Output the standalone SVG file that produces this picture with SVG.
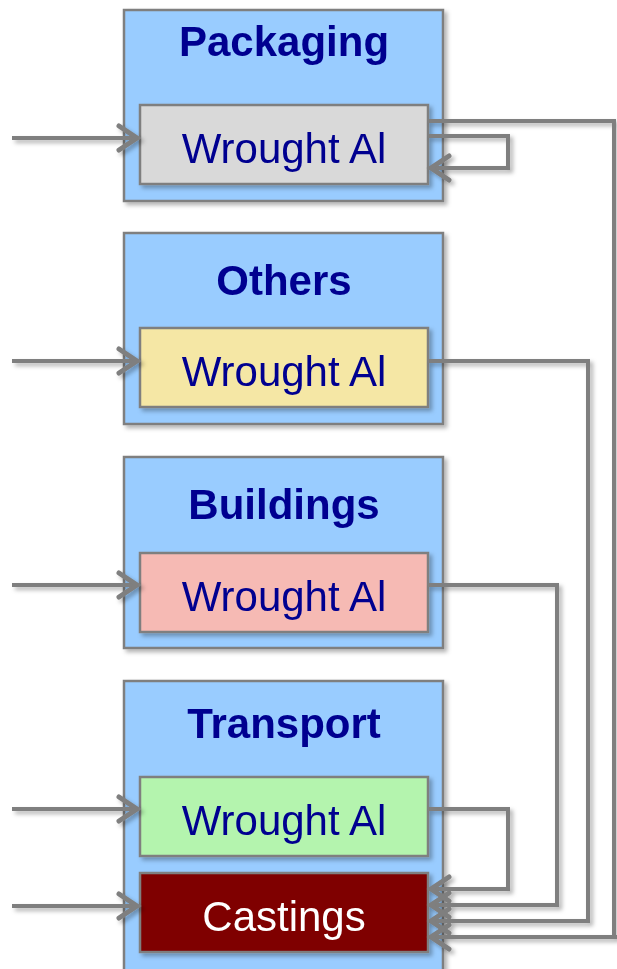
<svg xmlns="http://www.w3.org/2000/svg" width="617" height="969" viewBox="0 0 617 969">
  <style>
    .sector { fill: #99CCFF; stroke: #7F7F7F; stroke-width: 2.5; }
    .inner { stroke: #7F7F7F; stroke-width: 2.5; }
    .title { font-family: "Liberation Sans", Arial, sans-serif; font-weight: bold; font-size: 42px; fill: #000090; text-anchor: middle; }
    .label { font-family: "Liberation Sans", Arial, sans-serif; font-size: 42px; fill: #000090; text-anchor: middle; }
    .label-light { fill: #FFFFFF; }
    .flow { fill: none; stroke: #7F7F7F; stroke-width: 4; stroke-linejoin: miter; marker-end: url(#chevron); }
  </style>
  <defs>
    <filter id="shadow" x="-10%" y="-10%" width="130%" height="130%">
      <feDropShadow dx="3" dy="3" stdDeviation="2.2" flood-color="#000000" flood-opacity="0.3"/>
    </filter>
    <marker id="chevron" markerUnits="userSpaceOnUse" markerWidth="40" markerHeight="40" refX="0" refY="0" orient="auto" overflow="visible">
      <path d="M-19,-12 L-1,0 L-19,12" fill="none" stroke="#7F7F7F" stroke-width="5" stroke-linecap="round" stroke-linejoin="miter"/>
    </marker>
  </defs>

  <!-- Sector: Packaging -->
  <g id="packaging" filter="url(#shadow)">
    <rect class="sector" x="124" y="10" width="319" height="191"/>
    <text class="title" x="284" y="56">Packaging</text>
  </g>
  <g id="packaging-wrought" filter="url(#shadow)">
    <rect class="inner" x="140" y="105" width="288" height="79" fill="#D9D9D9"/>
    <text class="label" x="284" y="163">Wrought Al</text>
  </g>

  <!-- Sector: Others -->
  <g id="others" filter="url(#shadow)">
    <rect class="sector" x="124" y="233" width="319" height="191"/>
    <text class="title" x="284" y="295">Others</text>
  </g>
  <g id="others-wrought" filter="url(#shadow)">
    <rect class="inner" x="140" y="328" width="288" height="79" fill="#F5E7A5"/>
    <text class="label" x="284" y="386">Wrought Al</text>
  </g>

  <!-- Sector: Buildings -->
  <g id="buildings" filter="url(#shadow)">
    <rect class="sector" x="124" y="457" width="319" height="191"/>
    <text class="title" x="284" y="519">Buildings</text>
  </g>
  <g id="buildings-wrought" filter="url(#shadow)">
    <rect class="inner" x="140" y="553" width="288" height="79" fill="#F6BAB4"/>
    <text class="label" x="284" y="611">Wrought Al</text>
  </g>

  <!-- Sector: Transport -->
  <g id="transport" filter="url(#shadow)">
    <rect class="sector" x="124" y="681" width="319" height="300"/>
    <text class="title" x="284" y="738">Transport</text>
  </g>
  <g id="transport-wrought" filter="url(#shadow)">
    <rect class="inner" x="140" y="777" width="288" height="79" fill="#B4F4AE"/>
    <text class="label" x="284" y="835">Wrought Al</text>
  </g>
  <g id="transport-castings" filter="url(#shadow)">
    <rect class="inner" x="140" y="873" width="288" height="79" fill="#7F0000"/>
    <text class="label label-light" x="284" y="931">Castings</text>
  </g>

  <!-- Flows -->
  <g id="connectors" filter="url(#shadow)">
    <!-- inputs -->
    <path class="flow" d="M12,138 H138"/>
    <path class="flow" d="M12,361 H138"/>
    <path class="flow" d="M12,585 H138"/>
    <path class="flow" d="M12,809 H138"/>
    <path class="flow" d="M12,906 H138"/>
    <!-- packaging recycled back into itself -->
    <path class="flow" d="M428,136 H508 V168 H430"/>
    <!-- end-of-life wrought alloys into castings -->
    <path class="flow" d="M428,121 H614 V937 H430"/>
    <path class="flow" d="M428,361 H588 V921 H430"/>
    <path class="flow" d="M428,585 H557 V905 H430"/>
    <path class="flow" d="M428,809 H508 V889 H430"/>
    <path d="M614,937 H617" fill="none" stroke="#7F7F7F" stroke-width="4"/>
  </g>
</svg>
